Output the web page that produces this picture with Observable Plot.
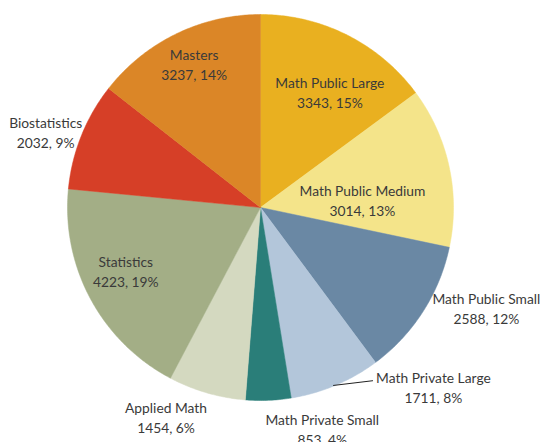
<!DOCTYPE html>
<html>
<head>
<meta charset="utf-8">
<script src="https://cdn.jsdelivr.net/npm/d3@7"></script>
<script src="https://cdn.jsdelivr.net/npm/@observablehq/plot@0.6"></script>
<style>
  html, body { margin: 0; padding: 0; background: #fff; }
</style>
</head>
<body>
<div id="chart"></div>
<script>
// Data (clockwise from 12 o'clock)
const categories = ["Math Public Large", "Math Public Medium", "Math Public Small", "Math Private Large", "Math Private Small", "Applied Math", "Statistics", "Biostatistics", "Masters"];
const counts = [3343, 3014, 2588, 1711, 853, 1454, 4223, 2032, 3237];
const percents = ["15%", "13%", "12%", "8%", "4%", "6%", "19%", "9%", "14%"];
const colors = ["#E9B020", "#F4E48A", "#6A88A4", "#B3C6DA", "#2A7E79", "#D4D9C0", "#A3AE86", "#D63F27", "#DB8627"];

// Label placement (angle in degrees clockwise from top, radius as fraction of pie radius)
const labelAngle = [30.9, 85.6, 113.9, 136, 164.4, 204.3, 245, 289.4, 335.2];
const labelRadius = [0.70, 0.53, 1.28, 1.29, 1.19, 1.19, 0.77, 1.18, 0.82];

// Leader line (Math Private Large)
const leader = [{a1: 157.8, r1: 0.996, a2: 147, r2: 1.07}];

// Layout
const W = 544, H = 442, CX = 260, CY = 207, R = 193;

const pie = d3.pie().sort(null).value(d => d)(counts);

const rad = a => a * Math.PI / 180;
const slicePts = [];
pie.forEach((p, i) => {
  slicePts.push({cat: categories[i], x: 0, y: 0});
  const n = Math.max(4, Math.ceil((p.endAngle - p.startAngle) / 0.01));
  for (let k = 0; k <= n; k++) {
    const a = p.startAngle + (p.endAngle - p.startAngle) * k / n;
    slicePts.push({cat: categories[i], x: Math.sin(a), y: Math.cos(a)});
  }
  slicePts.push({cat: categories[i], x: 0, y: 0});
});

const labels = categories.map((c, i) => ({
  text: `${c}\n${counts[i]}, ${percents[i]}`,
  x: labelRadius[i] * Math.sin(rad(labelAngle[i])),
  y: labelRadius[i] * Math.cos(rad(labelAngle[i]))
}));

const links = leader.map(l => ({
  x1: l.r1 * Math.sin(rad(l.a1)), y1: l.r1 * Math.cos(rad(l.a1)),
  x2: l.r2 * Math.sin(rad(l.a2)), y2: l.r2 * Math.cos(rad(l.a2))
}));

const chart = Plot.plot({
  width: W,
  height: H,
  margin: 0,
  style: {fontFamily: "Lato, 'Open Sans', sans-serif", background: "#fff"},
  x: {domain: [-CX / R, (W - CX) / R], axis: null},
  y: {domain: [-(H - CY) / R, CY / R], axis: null},
  color: {domain: categories, range: colors},
  marks: [
    Plot.line(slicePts, {x: "x", y: "y", z: "cat", fill: "cat", stroke: "cat", strokeWidth: 0.5, curve: "linear"}),
    Plot.link(links, {x1: "x1", y1: "y1", x2: "x2", y2: "y2", stroke: "#222", strokeWidth: 1}),
    Plot.text(labels, {x: "x", y: "y", text: "text", fontSize: 13.8, lineHeight: 1.45, fill: "#3a3a3a"})
  ]
});
document.getElementById("chart").appendChild(chart);
</script>
</body>
</html>
